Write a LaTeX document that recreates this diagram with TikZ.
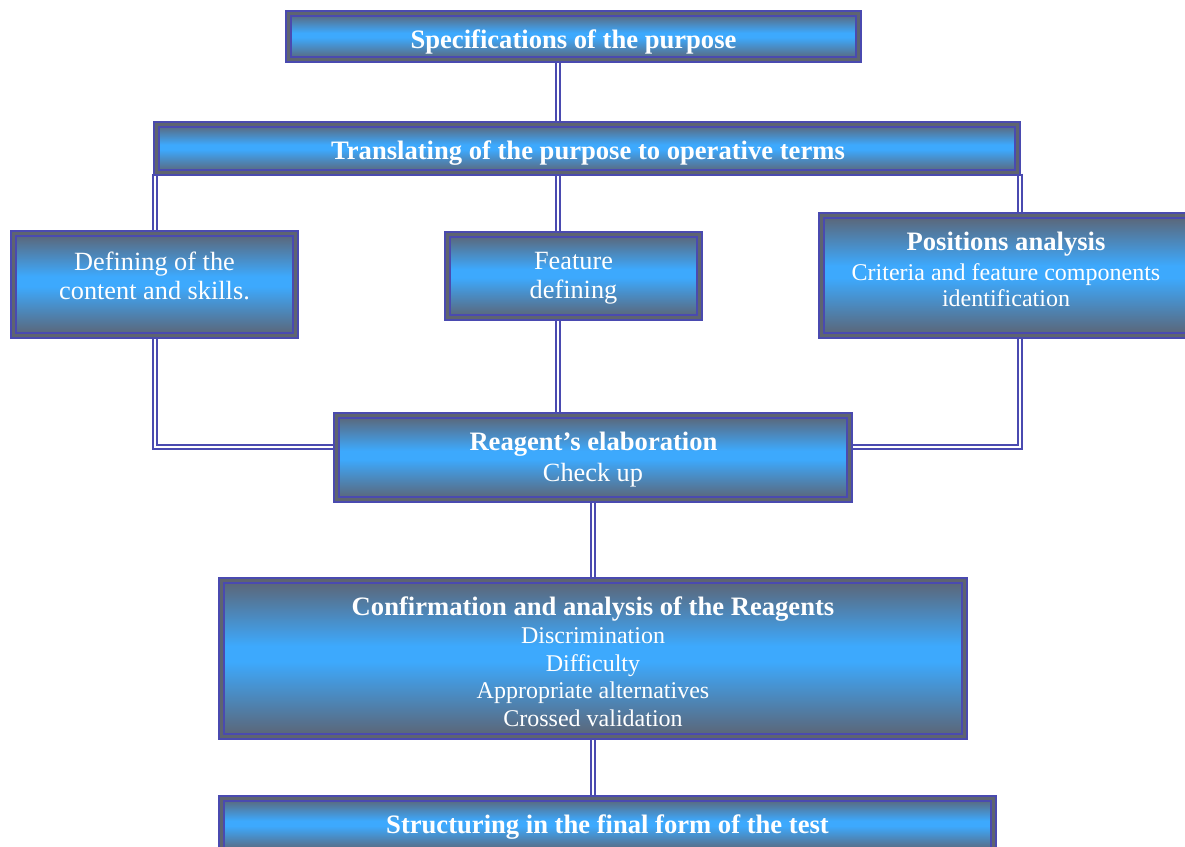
\documentclass[tikz,border=0pt]{standalone}
\usepackage{fontspec}
\setmainfont{Liberation Serif}
\usetikzlibrary{backgrounds}
\definecolor{bline}{HTML}{4A4AB0}
\definecolor{bgray}{HTML}{5E6470}
\definecolor{sgray}{HTML}{5C6474}
\definecolor{sblue}{HTML}{3DA9FD}
\pgfdeclareverticalshading{boxshade}{100bp}{color(0bp)=(sgray); color(25bp)=(sgray); color(49bp)=(sblue); color(54bp)=(sblue); color(75bp)=(sgray); color(100bp)=(sgray)}
\begin{document}
\begin{tikzpicture}[x=1pt,y=-1pt,
  box/.style={draw=bline, line width=2pt, double=bgray, double distance=3pt,
    shading=boxshade, inner sep=0pt},
  ttl/.style={text=white, inner sep=0pt, anchor=base, font=\fontsize{26.6}{30}\selectfont\bfseries},
  reg/.style={text=white, inner sep=0pt, anchor=base, font=\fontsize{26.3}{30}\selectfont},
  sml/.style={text=white, inner sep=0pt, anchor=base, font=\fontsize{24}{28}\selectfont},
  conn/.style={draw=bline, line width=1.8pt, double=white, double distance=2pt}]
\clip (0,0) rectangle (1185,846);
% boxes
\node[box, minimum width=570pt, minimum height=46pt] (spec) at (573.5,36.5) {};
\node[box, minimum width=861pt, minimum height=48pt] (trans) at (587,148.5) {};
\node[box, minimum width=282pt, minimum height=102pt] (def) at (154.5,284.5) {};
\node[box, minimum width=252pt, minimum height=83pt] (feat) at (573.5,276) {};
\node[box, minimum width=369pt, minimum height=120pt] (pos) at (1006,275.5) {};
\node[box, minimum width=513pt, minimum height=84pt] (reag) at (593,457.5) {};
\node[box, minimum width=743pt, minimum height=156pt] (conf) at (593,658.5) {};
\node[box, minimum width=772pt, minimum height=53pt] (struct) at (607.5,825) {};
% texts
\node[ttl] (spec-t) at (573.5,48.5) {Specifications of the purpose};
\node[ttl] (trans-t) at (588,159.5) {Translating of the purpose to operative terms};
\node[reg] (def-t1) at (154.5,270) {Defining of the};
\node[reg] (def-t2) at (154.5,299.5) {content and skills.};
\node[reg] (feat-t1) at (573.5,269.5) {Feature};
\node[reg] (feat-t2) at (573.5,298.5) {defining};
\node[ttl] (pos-t1) at (1006,250.5) {Positions analysis};
\node[sml] (pos-t2) at (1006,280) {Criteria and feature components};
\node[sml] (pos-t3) at (1006,306.5) {identification};
\node[ttl] (reag-t1) at (593.5,450.5) {Reagent’s elaboration};
\node[reg] (reag-t2) at (593,481.5) {Check up};
\node[ttl] (conf-t1) at (593,615.5) {Confirmation and analysis of the Reagents};
\node[sml] (conf-t2) at (593,643.2) {Discrimination};
\node[sml] (conf-t3) at (593,671) {Difficulty};
\node[sml] (conf-t4) at (593,698.8) {Appropriate alternatives};
\node[sml] (conf-t5) at (593,726.5) {Crossed validation};
\node[ttl] (struct-t) at (607.5,833) {Structuring in the final form of the test};
% connectors
\coordinate (cx) at (558,0);
\coordinate (lx) at (155,0);
\coordinate (rx) at (1020,0);
\coordinate (hy) at (0,447);
\begin{scope}[on background layer]
\draw[conn] (spec.south -| cx) -- (trans.north -| cx);
\draw[conn] (trans.south -| cx) -- (feat.north -| cx);
\draw[conn] (feat.south -| cx) -- (reag.north -| cx);
\draw[conn] (trans.south -| lx) -- (def.north -| lx);
\draw[conn] (def.south -| lx) -- (lx |- hy) -- (reag.west |- hy);
\draw[conn] (trans.south -| rx) -- (pos.north -| rx);
\draw[conn] (pos.south -| rx) -- (rx |- hy) -- (reag.east |- hy);
\draw[conn] (reag.south) -- (conf.north);
\draw[conn] (conf.south) -- (conf.south |- struct.north);
\end{scope}
\end{tikzpicture}
\end{document}
